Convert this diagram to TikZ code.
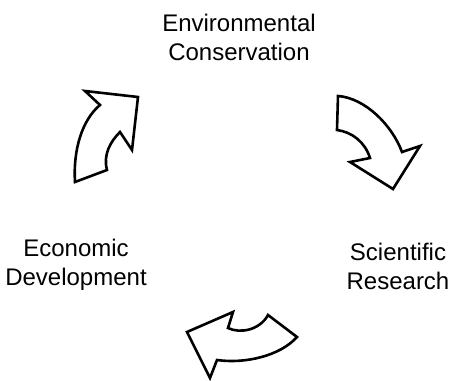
\documentclass[tikz,border=0pt]{standalone}
\usepackage{fontspec}
\setmainfont{Liberation Sans}
\usetikzlibrary{arrows}

\begin{document}
\begin{tikzpicture}[x=1pt,y=-1pt,
    topic/.style={align=center,font=\fontsize{24}{29}\selectfont},
    curvedarrow/.style={draw,fill=white,line width=2.6pt,line join=miter}]

        \useasboundingbox[fill=white] (0,0) rectangle (451,381);

        \node[topic]  (ENV) at (239,37)  {Environmental\\Conservation};
        \node[topic]  (SCI) at (398,266) {Scientific\\Research};
        \node[topic]  (ECO) at (76,265)  {Economic\\Development};

        % curved arrows between the three topics
        \path[curvedarrow] (75,182) .. controls (73,150) and (82,120) .. (100,105)
                  -- (85,91) -- (138,97) -- (132,150) -- (120,132)
                  .. controls (110,142) and (103,155) .. (107,170) -- cycle;
        \path[curvedarrow] (338,96) .. controls (365,98) and (392,125) .. (402,152)
                  -- (420,146) -- (393,189) -- (350,162) -- (370,158)
                  .. controls (365,142) and (352,132) .. (337,130) -- cycle;
        \path[curvedarrow] (268,315) -- (297,337) .. controls (280,356) and (245,364) .. (217,360)
                  -- (210,378) -- (187,332) -- (233,312) -- (228,328)
                  .. controls (240,334) and (260,330) .. (268,315) -- cycle;
      \end{tikzpicture}
\end{document}
